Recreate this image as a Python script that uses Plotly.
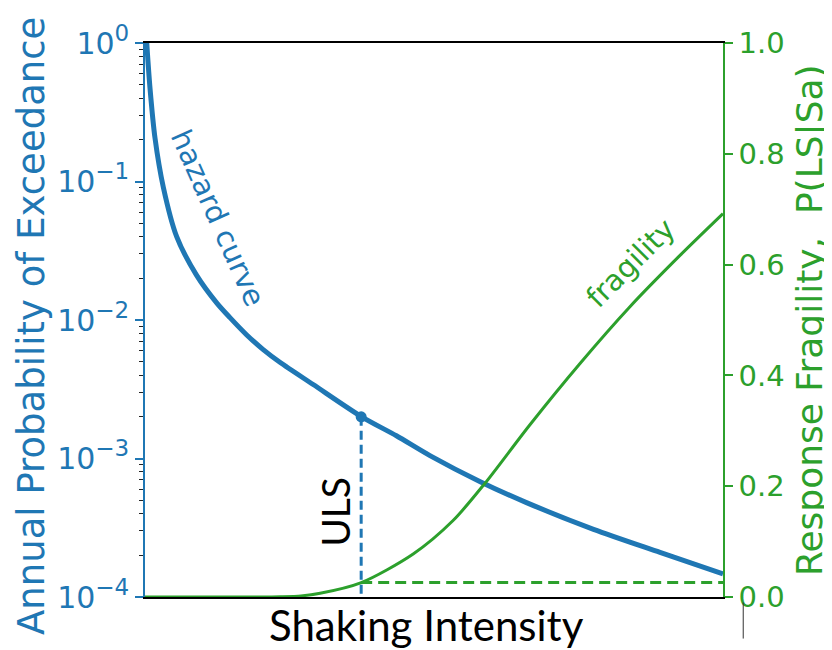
import plotly.graph_objects as go

# ---------------- data ----------------
# normalised shaking intensity (no numeric ticks on the x axis)
haz_x = [0.003, 0.0087, 0.0173, 0.0317, 0.0548, 0.0894, 0.124, 0.147, 0.176,
         0.204, 0.234, 0.291, 0.375, 0.435, 0.493, 0.580, 0.660, 0.776, 0.891, 1.0]
haz_p = [1.0, 0.47, 0.206, 0.091, 0.040, 0.021, 0.0133, 0.0104, 0.0078,
         0.00614, 0.00493, 0.00342, 0.0020, 0.00146, 0.00105, 0.00068, 0.00048,
         0.000308, 0.00021, 0.000147]

frag_x = [0.0, 0.10, 0.20, 0.234, 0.27, 0.303, 0.373, 0.464, 0.533, 0.588,
          0.666, 0.753, 0.839, 0.926, 1.0]
frag_p = [0.0, 0.0, 0.0, 0.0005, 0.002, 0.0066, 0.0254, 0.0776, 0.138, 0.205,
          0.311, 0.422, 0.524, 0.617, 0.692]

uls_x = 0.374
uls_haz = 0.002
uls_frag = 0.026

left_tickvals = [1, 0.1, 0.01, 0.001, 0.0001]
left_exponents = ["0", "\u22121", "\u22122", "\u22123", "\u22124"]
left_ticktext = ['10<sup><span style="font-size:23px">' + e + '</span></sup>'
                 for e in left_exponents]
minor_vals = [k * 10.0 ** e for e in range(-4, 0) for k in range(2, 10)]
right_tickvals = [0.0, 0.2, 0.4, 0.6, 0.8, 1.0]

BLUE = "#1f77b4"
GREEN = "#2ca02c"
FONT = "DejaVu Sans"

fig = go.Figure()

# fragility curve (right axis)
fig.add_trace(go.Scatter(x=frag_x, y=frag_p, yaxis="y2", mode="lines",
                         line=dict(color=GREEN, width=3, shape="spline", smoothing=0.8),
                         showlegend=False))
# horizontal dashed fragility at ULS
fig.add_trace(go.Scatter(x=[uls_x, 1.0], y=[uls_frag, uls_frag], yaxis="y2", mode="lines",
                         line=dict(color=GREEN, width=3, dash="11px,6px"),
                         showlegend=False))
# hazard curve (left axis, log)
fig.add_trace(go.Scatter(x=haz_x, y=haz_p, yaxis="y", mode="lines",
                         line=dict(color=BLUE, width=5, shape="spline", smoothing=0.8),
                         showlegend=False))
# vertical dashed ULS line
fig.add_trace(go.Scatter(x=[uls_x, uls_x], y=[uls_haz, 1e-4], yaxis="y", mode="lines",
                         line=dict(color=BLUE, width=3, dash="9px,5px"),
                         showlegend=False))
# ULS point
fig.add_trace(go.Scatter(x=[uls_x], y=[uls_haz], yaxis="y", mode="markers",
                         marker=dict(color=BLUE, size=11), showlegend=False))

fig.update_layout(
    width=824, height=642,
    margin=dict(l=137, r=109, t=26, b=53),
    paper_bgcolor="white", plot_bgcolor="white",
    xaxis=dict(range=[0, 1], showticklabels=False, ticks="", showgrid=False,
               zeroline=False, showline=True, linecolor="black", linewidth=1.5,
               mirror=True),
    yaxis=dict(type="log", range=[-4, 0], tickmode="array", tickvals=left_tickvals,
               ticktext=left_ticktext, ticks="outside", ticklen=8, tickwidth=1.5,
               tickcolor=BLUE, showline=True, linecolor=BLUE, linewidth=1.5,
               showgrid=False, zeroline=False,
               tickfont=dict(family=FONT, size=30, color=BLUE),
               minor=dict(tickvals=minor_vals, ticks="outside", ticklen=4.5,
                          tickwidth=1.2, tickcolor="#222", showgrid=False)),
    yaxis2=dict(overlaying="y", side="right", range=[0, 1], tickmode="array",
                tickvals=right_tickvals, tickformat=".1f", ticks="outside", ticklen=8,
                tickwidth=1.5, tickcolor=GREEN, showline=True, linecolor=GREEN,
                linewidth=1.5, showgrid=False, zeroline=False,
                tickfont=dict(family=FONT, size=29, color=GREEN)),
    annotations=[
        dict(text="Annual Probability of Exceedance", xref="paper", yref="paper",
             x=0, y=0.5, xanchor="center", yanchor="middle", xshift=-114, yshift=-6,
             textangle=-90, showarrow=False,
             font=dict(family=FONT, size=37, color=BLUE)),
        dict(text="Response Fragility,  P(LS|Sa)", xref="paper", yref="paper",
             x=1, y=0.5, xanchor="center", yanchor="middle", xshift=87, yshift=0,
             textangle=-90, showarrow=False,
             font=dict(family=FONT, size=36, color=GREEN)),
        dict(text="Shaking Intensity", xref="paper", yref="paper",
             x=0.5, y=0, xanchor="center", yanchor="middle", yshift=-28, xshift=-8,
             showarrow=False,
             font=dict(family="Lato", size=42, color="black")),
        dict(text="hazard curve", xref="x", yref="paper", x=0.126, y=0.684,
             xanchor="center", yanchor="middle", textangle=66, showarrow=False,
             font=dict(family=FONT, size=29, color=BLUE)),
        dict(text="fragility", xref="x", yref="paper", x=0.84, y=0.603,
             xanchor="center", yanchor="middle", textangle=-45, showarrow=False,
             font=dict(family=FONT, size=29, color=GREEN)),
        dict(text="ULS", xref="x", yref="paper", x=uls_x, xshift=-26, y=0.154,
             xanchor="center", yanchor="middle", textangle=-90, showarrow=False,
             font=dict(family="Lato", size=39, color="black")),
    ],
    shapes=[dict(type="line", xref="paper", yref="paper", x0=1.035, x1=1.035,
                 y0=-0.01, y1=-0.075, line=dict(color="#333", width=1))],
)

fig.write_html("out.html")
